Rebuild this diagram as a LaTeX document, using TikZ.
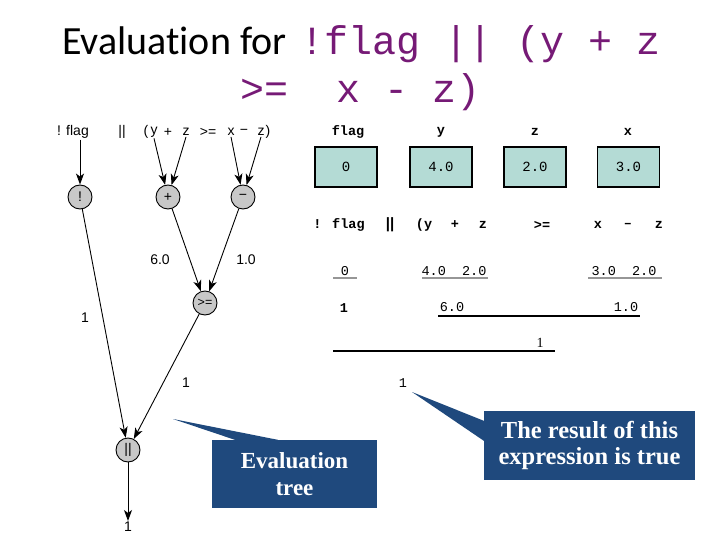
\documentclass[tikz,border=0pt]{standalone}
\usepackage{fontspec}
\setmainfont{Liberation Serif}
\newfontfamily\titlefont[Ligatures={NoCommon}]{Carlito}
\newfontfamily\codefont{Liberation Mono}
\newfontfamily\treefont{Liberation Sans}
\usetikzlibrary{arrows.meta}
\definecolor{codepurple}{RGB}{118,26,118}
\definecolor{callblue}{RGB}{31,73,125}
\definecolor{boxteal}{RGB}{180,219,213}
\definecolor{opgray}{RGB}{200,200,200}
\definecolor{ulgray}{RGB}{150,150,150}
\tikzset{
  tok/.style={font=\treefont\fontsize{14}{16}\selectfont, inner sep=1pt},
  op/.style={circle, draw, line width=0.9pt, fill=opgray, minimum size=24pt, inner sep=0pt, font=\treefont\fontsize{14}{14}\selectfont},
  arr/.style={-{Stealth[length=11pt,width=8pt,inset=3pt]}, line width=0.9pt},
  vname/.style={font=\codefont\bfseries\fontsize{13.5}{16}\selectfont, inner sep=1pt},
  valbox/.style={draw, line width=1.1pt, fill=boxteal, minimum width=62pt, minimum height=40pt, inner sep=0pt, font=\codefont\fontsize{14}{16}\selectfont},
  rowb/.style={font=\codefont\bfseries\fontsize{13.5}{16}\selectfont, inner sep=1pt},
  rowv/.style={font=\codefont\fontsize{13.5}{16}\selectfont, inner sep=1pt},
  ulg/.style={draw=ulgray, line width=1.4pt},
  ulb/.style={draw=black, line width=1.1pt},
  callbox/.style={fill=callblue, text=white, align=center, inner sep=0pt},
}
\begin{document}
\begin{tikzpicture}[x=1pt,y=-1pt]
\useasboundingbox (0,0) rectangle (720,540);

% title
\node[anchor=base west, inner sep=0pt] (t1) at (62,55) {\titlefont\fontsize{40}{48}\selectfont Evaluation for};
\node[anchor=base west, inner sep=0pt, text=codepurple] (t2) at (300,55) {\codefont\fontsize{40}{48}\selectfont !flag || (y + z};
\node[anchor=base west, inner sep=0pt, text=codepurple] (t3) at (240,103) {\codefont\fontsize{40}{48}\selectfont >=\ \ x - z)};

% tree header
\node[tok] (hflag) at (73,132) {! flag};
\node[tok] (hor) at (122,132) {||};
\node[tok] (hlp) at (146,132) {(};
\node[tok] (hy) at (154,132) {y};
\node[tok] (hplus) at (168,132) {+};
\node[tok] (hz1) at (186,132) {z};
\node[tok] (hge) at (208,132) {>=};
\node[tok] (hx) at (231,132) {x};
\node[tok] (hminus) at (244,132) {−};
\node[tok] (hz2) at (261,132) {z};
\node[tok] (hrp) at (268,132) {)};

% operator circles
\node[op] (not) at (80,197) {!};
\node[op] (plus) at (168,197) {+};
\node[op] (minus) at (243,197) {−};
\node[op, font=\treefont\fontsize{12.5}{12}\selectfont] (ge) at (205,303) {>=};
\node[op] (or) at (128,450) {||};

% tree arrows
\draw[arr] (not |- hflag.south) -- (not);
\draw[arr] (hy.south) -- (plus);
\draw[arr] (hz1.south) -- (plus);
\draw[arr] (hx.south) -- (minus);
\draw[arr] (hz2.south) -- (minus);
\draw[arr] (plus) -- (ge);
\draw[arr] (minus) -- (ge);
\draw[arr] (not) -- (or);
\draw[arr] (ge) -- (or);
\node[tok] (out) at (128,527) {1};
\draw[arr] (or) -- (out.north);

% edge labels
\node[tok] (l60) at (160,260) {6.0};
\node[tok] (l10) at (246,260) {1.0};
\node[tok] (l1a) at (85,318) {1};
\node[tok] (l1b) at (186,383) {1};

% variables
\node[vname] (nflag) at (348,132) {flag};
\node[vname] (ny) at (441,132) {y};
\node[vname] (nz) at (535,132) {z};
\node[vname] (nx) at (628,132) {x};
\node[valbox] (bflag) at (346,167) {0};
\node[valbox] (by) at (441,167) {4.0};
\node[valbox] (bz) at (535,167) {2.0};
\node[valbox] (bx) at (628.5,167) {3.0};

% step-by-step rows
\node[rowb] (e1) at (339,225) {! flag};
\node[rowb, font=\treefont\bfseries\fontsize{15}{16}\selectfont] (e2) at (390,225) {||};
\node[rowb] (e3) at (424,225) {(y};
\node[rowb] (e4) at (455,225) {+};
\node[rowb] (e5) at (483,225) {z};
\node[rowb] (e6) at (542,225) {>=};
\node[rowb] (e7) at (598,225) {x};
\node[rowb] (e8) at (628,225) {–};
\node[rowb] (e9) at (659,225) {z};

\node[rowv] (v1) at (345,271) {0};
\node[rowv] (v2) at (454,271) {4.0\ \ 2.0};
\node[rowv] (v3) at (624,271) {3.0\ \ 2.0};
\draw[ulg] (333,278) -- (357,278);
\draw[ulg] (422,278) -- (488,278);
\draw[ulg] (588,278) -- (662,278);

\node[rowb] (w1) at (344,308) {1};
\node[rowv] (w2) at (452,307) {6.0};
\node[rowv] (w3) at (626,307) {1.0};
\draw[ulb] (438,316) -- (640,316);

\node[inner sep=1pt, font=\fontsize{14}{16}\selectfont] (u1) at (540,343) {1};
\draw[ulb] (333,351) -- (555,351);

\node[rowv] (res) at (403,383) {1};

% callouts
\node[callbox, minimum width=165pt, minimum height=68pt, font=\bfseries\fontsize{23}{27}\selectfont] (c1) at (294.5,474) {Evaluation\\tree};
\coordinate (c1tip) at (173,419);
\fill[callblue] (c1tip) -- ([xshift=23pt]c1.north west) -- ([xshift=66pt]c1.north west) -- cycle;

\node[callbox, minimum width=211pt, minimum height=69pt, font=\bfseries\fontsize{24.5}{26.5}\selectfont] (c2) at (589.5,445.5) {The result of this\\expression is true};
\coordinate (c2tip) at (412,392);
\fill[callblue] (c2tip) -- ([yshift=-10pt]c2.north west) -- ([yshift=-30pt]c2.north west) -- cycle;
\end{tikzpicture}
\end{document}
